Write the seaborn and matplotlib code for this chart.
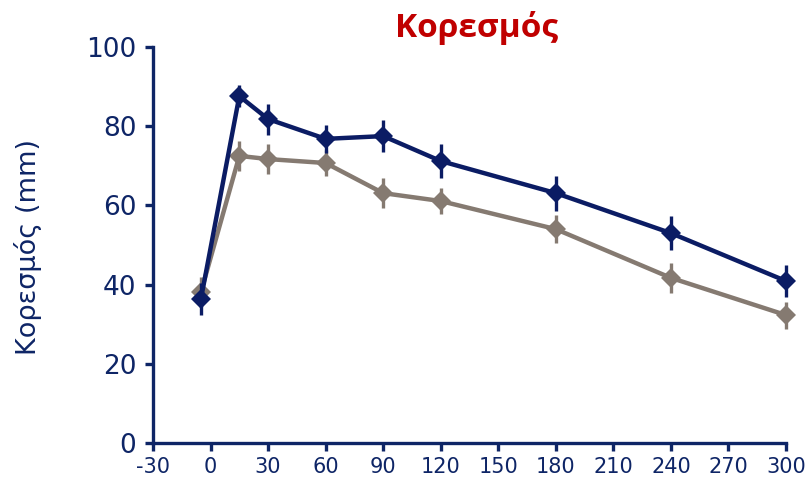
import matplotlib
matplotlib.use("Agg")
import matplotlib.pyplot as plt
import seaborn as sns
import pandas as pd

time_min = [-5, 15, 30, 60, 90, 120, 180, 240, 300]
series_a = [36.4, 87.6, 81.8, 76.8, 77.5, 71.2, 63.1, 53.0, 40.9]
err_a = [4.0, 2.8, 3.9, 3.5, 4.0, 4.2, 4.4, 4.2, 4.0]
series_b = [38.1, 72.5, 71.7, 70.7, 63.1, 61.1, 54.0, 41.7, 32.3]
err_b = [3.8, 3.8, 3.7, 3.4, 3.8, 3.2, 3.5, 3.8, 3.4]
x_ticks = [-30, 0, 30, 60, 90, 120, 150, 180, 210, 240, 270, 300]
y_ticks = [0, 20, 40, 60, 80, 100]

title = "Κορεσμός"
ylabel = "Κορεσμός (mm)"

navy = "#0B1C64"
gray = "#857A71"
axis_col = "#0E2566"

sns.set_theme(style="white")
plt.rcParams['font.family'] = ['DejaVu Sans']

df = pd.concat([
    pd.DataFrame({"t": time_min, "v": series_a, "e": err_a, "s": "A"}),
    pd.DataFrame({"t": time_min, "v": series_b, "e": err_b, "s": "B"}),
])

fig = plt.figure(figsize=(8.06, 4.90), dpi=100)
ax = fig.add_axes([153/806, 1-443/490, (786-153)/806, (443-47)/490])

palette = {"A": navy, "B": gray}
for s, order in (("B", 2), ("A", 3)):
    d = df[df.s == s]
    ax.errorbar(d.t, d.v, yerr=d.e, fmt="none", ecolor=palette[s],
                elinewidth=2.4, capsize=0, zorder=order, clip_on=False)

sns.lineplot(data=df, x="t", y="v", hue="s", hue_order=["B", "A"], palette=palette,
             marker="D", markersize=10, markeredgewidth=0, linewidth=3.2,
             legend=False, ax=ax, sort=False, estimator=None, clip_on=False)

ax.set_xlim(-30, 300)
ax.set_ylim(0, 100)
ax.set_xticks(x_ticks)
ax.set_yticks(y_ticks)
ax.set_xticklabels([str(v) for v in x_ticks], fontsize=15, color=axis_col)
ax.set_yticklabels([str(v) for v in y_ticks], fontsize=19, color=axis_col)
ax.set_xlabel("")
ax.set_ylabel(ylabel, fontsize=19.5, color=axis_col)
ax.yaxis.set_label_coords(-(153 - 42) / 633, (443 - 247) / 396)

for side in ("top", "right"):
    ax.spines[side].set_visible(False)
for side in ("left", "bottom"):
    ax.spines[side].set_color(axis_col)
    ax.spines[side].set_linewidth(2.4)
ax.tick_params(axis="both", which="both", direction="out", color=axis_col,
               width=2.4, length=6, left=True, bottom=True)
ax.tick_params(axis="y", pad=6)
ax.tick_params(axis="x", pad=4)

fig.text(476/806, 1-28/490, title, ha="center", va="center", fontsize=24,
         fontweight="bold", color="#C00000", family=["Open Sans", "DejaVu Sans"])

fig.savefig("out.png", dpi=100, facecolor="white")
